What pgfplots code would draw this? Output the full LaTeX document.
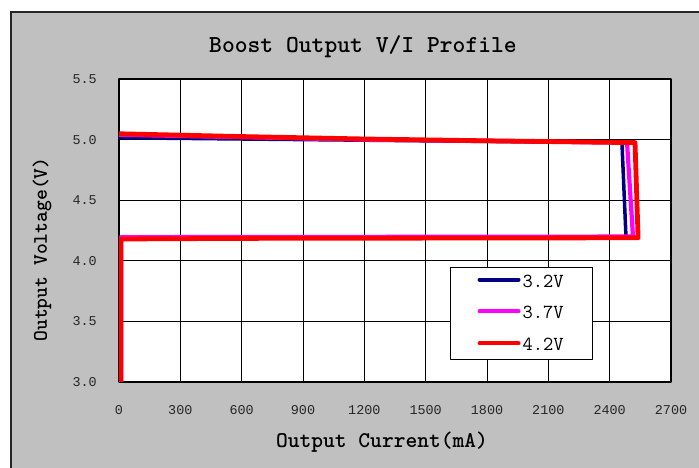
\documentclass[border=0pt]{standalone}
\usepackage{fontspec}
\setmainfont{Liberation Mono}
\newfontfamily\tickfont{Liberation Mono}
\usepackage{pgfplots}
\pgfplotsset{compat=1.18}
\definecolor{bggray}{HTML}{C0C0C0}
\definecolor{navy}{HTML}{000080}
\definecolor{mag}{HTML}{FF00FF}
\definecolor{rd}{HTML}{FF0000}
\begin{document}
\begin{tikzpicture}
\useasboundingbox (0bp,0bp) rectangle (699bp,468bp);
\fill[white] (0bp,0bp) rectangle (699bp,468bp);
\fill[bggray] (11bp,0bp) rectangle (699bp,456bp);
\draw[line width=1.3bp, black!85] (11bp,0bp) -- (11bp,456bp) -- (699bp,456bp);
\begin{axis}[
  at={(119bp,86bp)}, anchor=south west, scale only axis,
  width=552bp, height=303bp,
  xmin=0, xmax=2700, ymin=3, ymax=5.5,
  xtick={0,300,600,900,1200,1500,1800,2100,2400,2700},
  ytick={3,3.5,4,4.5,5,5.5},
  grid=major, major grid style={black, line width=1bp},
  axis line style={black, line width=1.3bp},
  major tick length=0pt,
  axis background/.style={fill=white},
  tick label style={font=\tickfont\fontsize{13.5}{14}\selectfont, text=black!85},
  /pgf/number format/assume math mode=true,
  xticklabel style={/pgf/number format/1000 sep={}, anchor=center, yshift=-28bp},
  yticklabel style={/pgf/number format/.cd, fixed, fixed zerofill, precision=1, /tikz/.cd, anchor=east, inner sep=0pt, xshift=-22bp},
  legend style={at={(rel axis cs:0.5996,0.3795)}, anchor=north west, draw=black, line width=1.2bp, fill=white,
    font=\ttfamily\fontsize{20}{22}\selectfont, inner xsep=27bp, inner ysep=5bp, row sep=14bp},
  legend cell align=left,
  legend image code/.code={\draw[#1, line width=4bp, line cap=round] (0bp,2bp) -- (39bp,2bp);},
  line join=round,
]
\addplot[navy, line width=3.5bp] coordinates {
  (10,3.0) (10,4.19) (2480,4.19) (2460,4.975) (1800,4.985) (1200,4.995) (600,5.005) (0,5.015)
};
\addlegendentry{3.2V}
\addplot[mag, line width=4.2bp] coordinates {
  (10,3.0) (10,4.195) (2514,4.2) (2485,4.975) (1800,4.99) (1200,5.0) (600,5.02) (0,5.04)
};
\addlegendentry{3.7V}
\addplot[rd, line width=4.8bp] coordinates {
  (10,3.0) (10,4.18) (600,4.185) (2539,4.19) (2524,4.975) (1800,4.99) (1200,5.005) (600,5.025) (0,5.048)
};
\addlegendentry{4.2V}
\end{axis}
\node[font=\ttfamily\bfseries\fontsize{24.5}{26}\selectfont] at (363bp,421bp) {Boost Output V/I Profile};
\node[font=\ttfamily\bfseries\fontsize{22.5}{24}\selectfont] at (382bp,26bp) {Output Current(mA)};
\node[font=\ttfamily\bfseries\fontsize{20.7}{22}\selectfont, rotate=90] at (42bp,218.5bp) {Output Voltage(V)};
\end{tikzpicture}
\end{document}
